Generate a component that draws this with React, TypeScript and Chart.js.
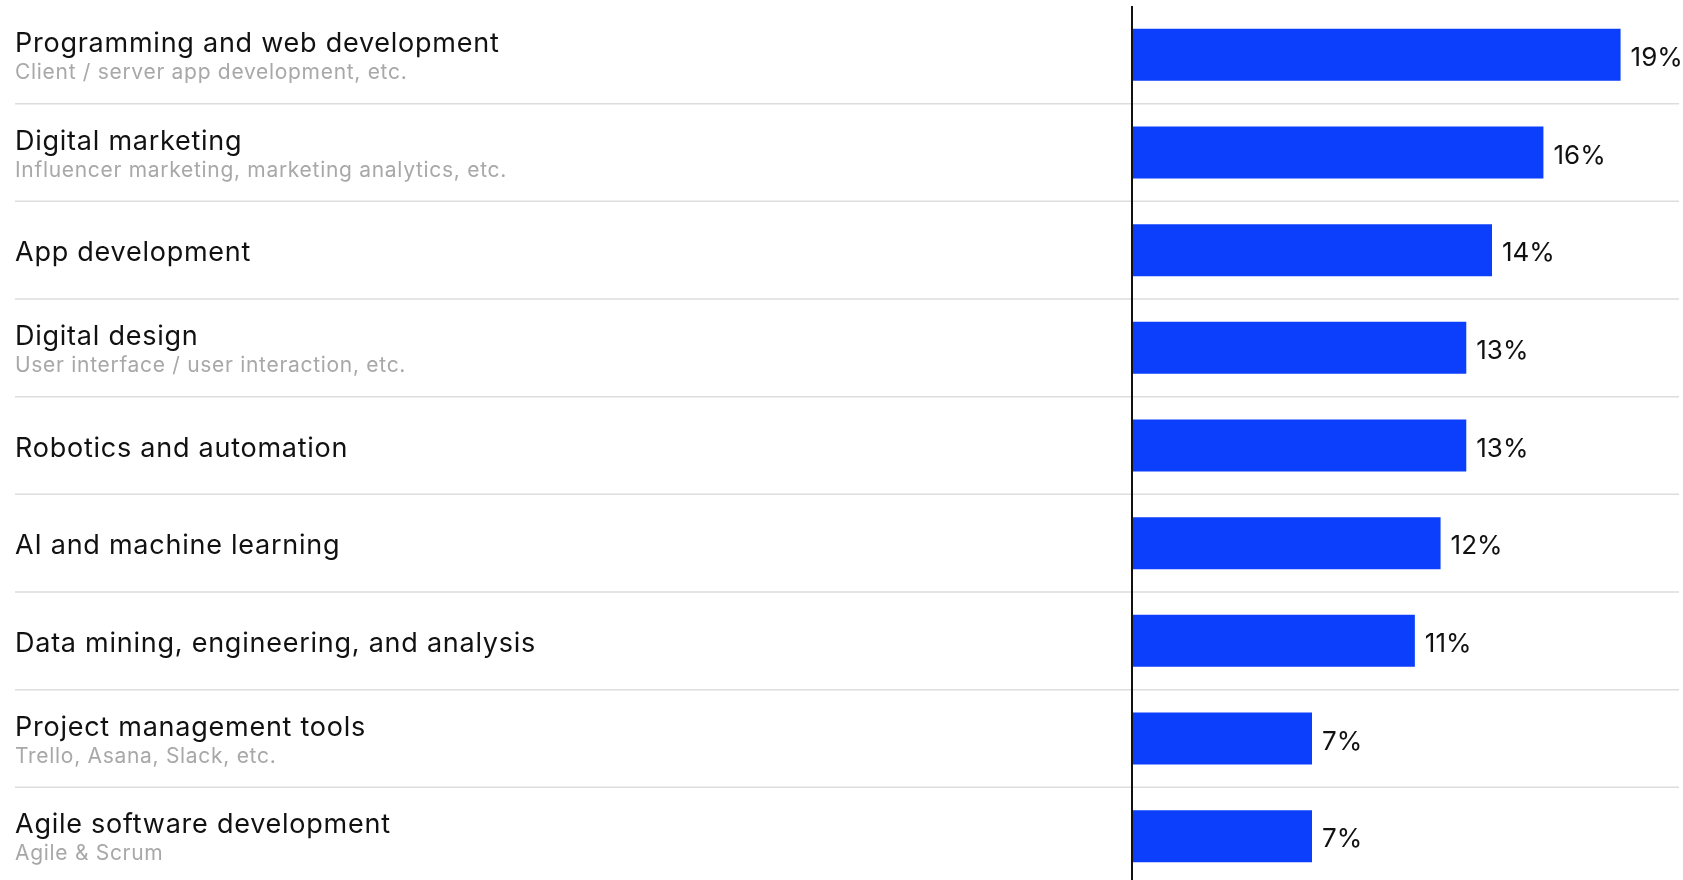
import React, { useEffect, useRef } from "react";
import { Chart, registerables } from "chart.js";

Chart.register(...registerables);

const categories = [
  "Programming and web development",
  "Digital marketing",
  "App development",
  "Digital design",
  "Robotics and automation",
  "AI and machine learning",
  "Data mining, engineering, and analysis",
  "Project management tools",
  "Agile software development",
];

const subtitles = [
  "Client / server app development, etc.",
  "Influencer marketing, marketing analytics, etc.",
  "",
  "User interface / user interaction, etc.",
  "",
  "",
  "",
  "Trello, Asana, Slack, etc.",
  "Agile & Scrum",
];

const values = [19, 16, 14, 13, 13, 12, 11, 7, 7];

const FONT = "Inter, 'Noto Sans', sans-serif";

const rowPlugin = {
  id: "rowPlugin",
  beforeDatasetsDraw(chart: any) {
    const { ctx, scales } = chart;
    const y = scales.y;
    ctx.save();
    ctx.strokeStyle = "#dddddd";
    ctx.lineWidth = 1.5;
    for (let i = 0; i < categories.length - 1; i++) {
      const yy = (y.getPixelForValue(i) + y.getPixelForValue(i + 1)) / 2;
      ctx.beginPath();
      ctx.moveTo(15, yy);
      ctx.lineTo(chart.width - 4, yy);
      ctx.stroke();
    }
    ctx.textAlign = "left";
    ctx.textBaseline = "alphabetic";
    for (let i = 0; i < categories.length; i++) {
      const cy = y.getPixelForValue(i);
      const sub = subtitles[i];
      ctx.fillStyle = "#111111";
      ctx.font = `400 27px ${FONT}`;
      (ctx as any).letterSpacing = "0.75px";
      if (sub) {
        ctx.fillText(categories[i], 15, cy - 3);
        ctx.fillStyle = "#a8a8a8";
        ctx.font = `400 21px ${FONT}`;
        (ctx as any).letterSpacing = "0.7px";
        ctx.fillText(sub, 15, cy + 24);
      } else {
        ctx.fillText(categories[i], 15, cy + 11);
      }
      (ctx as any).letterSpacing = "0px";
    }
    ctx.restore();
  },
  afterDatasetsDraw(chart: any) {
    const { ctx, chartArea } = chart;
    const meta = chart.getDatasetMeta(0);
    ctx.save();
    ctx.fillStyle = "#111111";
    ctx.font = `400 26px ${FONT}`;
    ctx.textAlign = "left";
    ctx.textBaseline = "alphabetic";
    meta.data.forEach((bar: any, i: number) => {
      ctx.fillText(values[i] + "%", bar.x + 10, bar.y + 11);
    });
    ctx.strokeStyle = "#111111";
    ctx.lineWidth = 2;
    ctx.beginPath();
    ctx.moveTo(chartArea.left, chartArea.top);
    ctx.lineTo(chartArea.left, chart.height);
    ctx.stroke();
    ctx.restore();
  },
};

export default function App() {
  const ref = useRef<HTMLCanvasElement | null>(null);
  useEffect(() => {
    if (!ref.current) return;
    const chart = new Chart(ref.current, {
      type: "bar",
      data: {
        labels: categories,
        datasets: [
          {
            data: values,
            backgroundColor: "#0b3ffb",
            borderWidth: 0,
            barPercentage: 0.532,
            categoryPercentage: 1,
          },
        ],
      },
      options: {
        indexAxis: "y",
        animation: false,
        responsive: false,
        devicePixelRatio: 1,
        layout: { padding: { left: 1132, right: 11, top: 6, bottom: 5 } },
        plugins: { legend: { display: false }, tooltip: { enabled: false } },
        scales: {
          x: { display: false, min: 0, max: 21 },
          y: { display: false },
        },
      },
      plugins: [rowPlugin],
    });
    return () => chart.destroy();
  }, []);
  return (
    <div
      style={{
        position: "fixed",
        left: 0,
        top: 0,
        width: 1683,
        height: 880,
        overflow: "hidden",
        background: "#ffffff",
      }}
    >
      <canvas ref={ref} width={1683} height={890} style={{ width: 1683, height: 890, display: "block" }} />
    </div>
  );
}
